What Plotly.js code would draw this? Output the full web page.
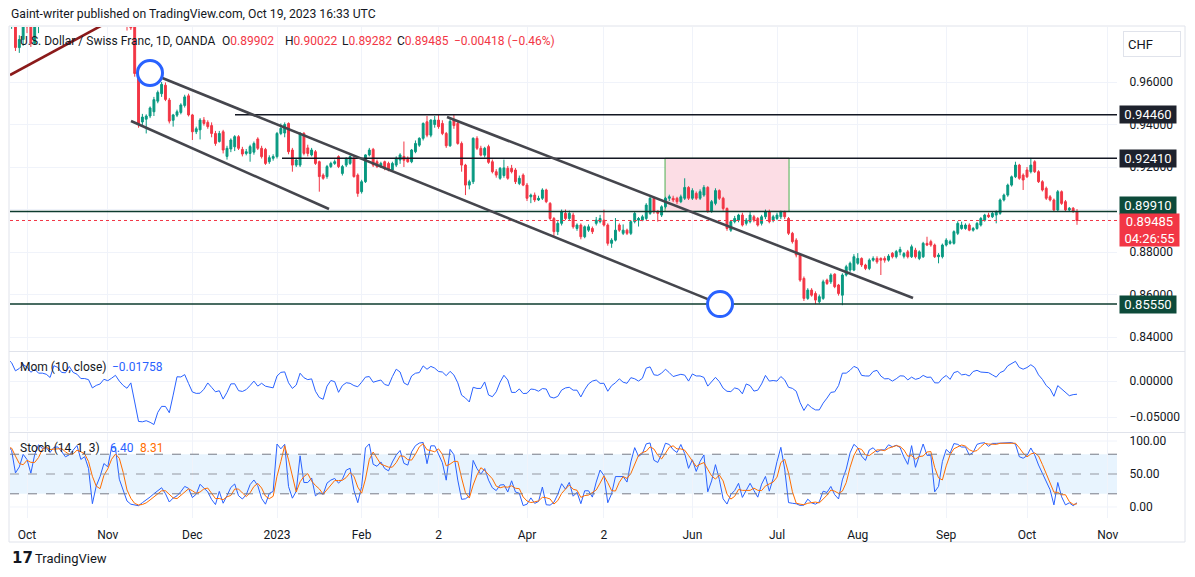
<!DOCTYPE html>
<html>
<head>
<meta charset="utf-8">
<script src="https://cdn.plot.ly/plotly-3.0.1.min.js"></script>
<style>html,body{margin:0;padding:0;background:#fff;}#chart{width:1195px;height:577px;}</style>
</head>
<body>
<div id="chart"></div>
<script>
// USD/CHF daily candles, 5 Sep 2022 .. 19 Oct 2023 (weekdays)
const open = [
.9770,.9795,.9840,.9750,.9700,.9610,.9565,.9645,.9620,.9625,
.9650,.9665,.9660,.9725,.9835,.9840,.9870,.9900,.9762,.9800,
.9880,.9860,.9782,.9890,.9945,.9950,.9965,.9950,.9975,.9990,
1.0000,.9975,.9985,1.0010,1.0040,.9985,1.0000,.9970,.9880,.9930,
.9960,1.0000,.9990,1.0050,1.0120,.9985,.9940,.9900,.9880,.9640,
.9412,.9425,.9440,.9460,.9510,.9545,.9585,.9515,.9420,.9444,
.9457,.9490,.9535,.9445,.9366,.9375,.9421,.9410,.9395,.9358,
.9320,.9366,.9250,.9285,.9295,.9343,.9283,.9264,.9264,.9270,
.9332,.9288,.9283,.9225,.9241,.9249,.9358,.9360,.9405,.9280,
.9209,.9209,.9358,.9290,.9257,.9272,.9225,.9162,.9155,.9202,
.9217,.9249,.9170,.9209,.9217,.9241,.9162,.9084,.9131,.9257,
.9283,.9225,.9202,.9225,.9217,.9186,.9209,.9233,.9250,.9241,
.9225,.9272,.9303,.9335,.9413,.9350,.9400,.9421,.9405,.9358,
.9300,.9421,.9405,.9311,.9209,.9115,.9131,.9335,.9288,.9256,
.9296,.9225,.9178,.9147,.9160,.9194,.9194,.9186,.9123,.9162,
.9115,.9060,.9068,.9045,.9053,.9092,.9029,.8958,.8896,.8935,
.8982,.8958,.8974,.8911,.8927,.8872,.8903,.8911,.8935,.8943,
.8950,.8927,.8841,.8856,.8927,.8888,.8903,.8888,.8943,.8950,
.8950,.8958,.8982,.9053,.8993,.8974,.9013,.9053,.9053,.9053,
.9037,.9053,.9104,.9053,.9076,.9053,.9068,.9104,.8990,.9029,
.9089,.9053,.9005,.8903,.8943,.8950,.8974,.8935,.8943,.8966,
.8958,.8935,.8966,.8990,.8950,.8958,.8966,.8990,.8958,.8888,
.8856,.8786,.8676,.8582,.8621,.8605,.8566,.8582,.8668,.8660,
.8696,.8645,.8597,.8692,.8715,.8715,.8747,.8770,.8739,.8723,
.8762,.8770,.8770,.8770,.8762,.8794,.8778,.8800,.8780,.8801,
.8778,.8809,.8770,.8778,.8841,.8849,.8833,.8778,.8778,.8833,
.8841,.8841,.8888,.8911,.8911,.8927,.8903,.8911,.8927,.8950,
.8974,.8966,.8974,.8982,.9045,.9068,.9115,.9154,.9209,.9162,
.9186,.9178,.9225,.9178,.9131,.9100,.9060,.9045,.8998,.9084,
.9037,.8998,.9006,.89902
];
const high = [
.9830,.9870,.9865,.9780,.9720,.9625,.9660,.9660,.9640,.9665,
.9680,.9690,.9760,.9860,.9880,.9890,.9960,.9965,.9820,.9900,
.9905,.9875,.9900,.9960,.9990,1.0000,.9990,.9995,1.0015,1.0050,
1.0010,1.0000,1.0040,1.0060,1.0070,1.0030,1.0020,.9985,.9950,.9985,
1.0020,1.0030,1.0060,1.0150,1.0130,1.0000,.9960,.9935,.9910,.9665,
.9450,.9448,.9485,.9530,.9560,.9600,.9598,.9525,.9450,.9470,
.9500,.9540,.9545,.9450,.9390,.9430,.9435,.9420,.9410,.9370,
.9370,.9375,.9300,.9335,.9350,.9350,.9295,.9285,.9305,.9320,
.9340,.9300,.9290,.9255,.9260,.9365,.9405,.9410,.9410,.9290,
.9240,.9365,.9365,.9305,.9290,.9280,.9230,.9170,.9210,.9225,
.9235,.9255,.9210,.9245,.9255,.9250,.9170,.9140,.9260,.9290,
.9290,.9235,.9225,.9230,.9225,.9225,.9250,.9265,.9320,.9250,
.9285,.9325,.9340,.9410,.9440,.9425,.9440,.9446,.9420,.9365,
.9425,.9446,.9415,.9320,.9215,.9140,.9340,.9345,.9300,.9295,
.9305,.9235,.9190,.9200,.9235,.9205,.9210,.9195,.9160,.9170,
.9125,.9075,.9080,.9065,.9100,.9098,.9035,.8965,.8945,.9000,
.9000,.8995,.8985,.8935,.8935,.8925,.8930,.8920,.8965,.8975,
.9000,.8935,.8865,.8960,.8935,.8930,.8910,.8950,.8990,.8965,
.8975,.9030,.9060,.9060,.8995,.9020,.9060,.9070,.9065,.9060,
.9070,.9147,.9110,.9100,.9085,.9095,.9115,.9110,.9045,.9100,
.9095,.9060,.9010,.8950,.8970,.8980,.8985,.8960,.8990,.8975,
.8965,.8975,.9000,.9000,.8975,.8985,.8995,.8995,.8965,.8895,
.8865,.8790,.8685,.8630,.8630,.8615,.8600,.8670,.8675,.8700,
.8700,.8650,.8700,.8740,.8755,.8790,.8795,.8775,.8745,.8770,
.8780,.8780,.8775,.8780,.8790,.8800,.8810,.8825,.8800,.8810,
.8835,.8820,.8808,.8848,.8872,.8858,.8840,.8795,.8840,.8865,
.8858,.8902,.8945,.8943,.8935,.8935,.8918,.8942,.8965,.8980,
.8985,.8990,.8996,.9052,.9075,.9122,.9160,.9225,.9215,.9170,
.9200,.9243,.9232,.9185,.9138,.9108,.9068,.9052,.9092,.9090,
.9045,.9012,.9012,.90022
];
const low = [
.9750,.9780,.9740,.9680,.9600,.9550,.9545,.9595,.9590,.9600,
.9620,.9640,.9650,.9710,.9790,.9790,.9850,.9746,.9737,.9770,
.9830,.9765,.9775,.9830,.9920,.9930,.9910,.9925,.9870,.9965,
.9940,.9930,.9960,.9990,.9950,.9970,.9950,.9870,.9865,.9910,
.9950,.9960,.9950,1.0030,.9970,.9920,.9842,.9845,.9625,.9385,
.9395,.9358,.9430,.9440,.9500,.9530,.9510,.9405,.9390,.9435,
.9448,.9480,.9438,.9327,.9355,.9330,.9395,.9380,.9340,.9300,
.9315,.9264,.9235,.9270,.9275,.9280,.9250,.9255,.9225,.9258,
.9280,.9240,.9210,.9215,.9230,.9240,.9350,.9340,.9260,.9178,
.9200,.9200,.9255,.9250,.9250,.9210,.9084,.9140,.9145,.9195,
.9210,.9195,.9160,.9200,.9210,.9150,.9060,.9075,.9125,.9250,
.9200,.9195,.9195,.9185,.9180,.9178,.9200,.9215,.9200,.9220,
.9218,.9265,.9295,.9325,.9340,.9340,.9385,.9380,.9350,.9290,
.9295,.9380,.9305,.9178,.9068,.9095,.9120,.9280,.9250,.9245,
.9215,.9170,.9150,.9140,.9150,.9140,.9170,.9120,.9115,.9110,
.9040,.9030,.9035,.9040,.9045,.9030,.8950,.8870,.8880,.8925,
.8950,.8950,.8910,.8900,.8860,.8865,.8895,.8885,.8925,.8935,
.8920,.8830,.8820,.8850,.8895,.8880,.8880,.8880,.8935,.8920,
.8945,.8950,.8975,.8980,.8943,.8965,.9005,.9040,.9035,.9025,
.9030,.9045,.9045,.9045,.9045,.9045,.9060,.8985,.8985,.9020,
.9045,.8995,.8900,.8895,.8935,.8940,.8920,.8925,.8935,.8940,
.8920,.8925,.8955,.8935,.8940,.8950,.8955,.8955,.8880,.8840,
.8775,.8660,.8570,.8575,.8590,.8555,.8558,.8575,.8645,.8650,
.8630,.8595,.8550,.8685,.8705,.8710,.8740,.8730,.8715,.8715,
.8755,.8745,.8692,.8750,.8755,.8770,.8770,.8785,.8770,.8770,
.8772,.8770,.8762,.8772,.8828,.8825,.8772,.8747,.8770,.8826,
.8835,.8835,.8880,.8905,.8905,.8898,.8896,.8905,.8920,.8943,
.8960,.8960,.8935,.8975,.9038,.9060,.9108,.9148,.9140,.9092,
.9148,.9170,.9172,.9125,.9085,.9045,.9038,.8990,.8990,.9022,
.8992,.8990,.8985,.89282
];
const close = [
.9795,.9840,.9750,.9700,.9610,.9565,.9645,.9620,.9625,.9650,
.9665,.9660,.9725,.9835,.9840,.9870,.9900,.9762,.9800,.9880,
.9860,.9782,.9890,.9945,.9950,.9965,.9950,.9975,.9990,1.0000,
.9975,.9985,1.0010,1.0040,.9985,1.0000,.9970,.9880,.9930,.9960,
1.0000,.9990,1.0050,1.0120,.9985,.9940,.9870,.9855,.9640,.9400,
.9435,.9440,.9478,.9517,.9551,.9589,.9518,.9416,.9445,.9460,
.9492,.9530,.9445,.9366,.9380,.9421,.9405,.9390,.9358,.9311,
.9358,.9280,.9288,.9327,.9343,.9288,.9261,.9272,.9296,.9311,
.9288,.9249,.9217,.9244,.9249,.9358,.9382,.9400,.9272,.9209,
.9233,.9358,.9264,.9264,.9280,.9217,.9155,.9147,.9202,.9217,
.9225,.9202,.9202,.9241,.9249,.9155,.9076,.9131,.9257,.9280,
.9209,.9202,.9217,.9194,.9186,.9217,.9241,.9257,.9232,.9225,
.9280,.9311,.9335,.9405,.9350,.9421,.9421,.9390,.9358,.9300,
.9415,.9395,.9311,.9209,.9115,.9131,.9335,.9288,.9256,.9288,
.9222,.9178,.9162,.9194,.9196,.9147,.9178,.9131,.9147,.9115,
.9053,.9068,.9045,.9053,.9092,.9037,.8958,.8896,.8935,.8990,
.8958,.8982,.8919,.8927,.8872,.8919,.8919,.8896,.8950,.8958,
.8927,.8841,.8856,.8903,.8903,.8903,.8888,.8943,.8982,.8958,
.8966,.9021,.9053,.8990,.8982,.9013,.9053,.9060,.9045,.9037,
.9060,.9104,.9053,.9089,.9053,.9084,.9104,.8990,.9037,.9089,
.9053,.9005,.8911,.8943,.8958,.8974,.8927,.8950,.8974,.8950,
.8927,.8966,.8990,.8943,.8966,.8974,.8990,.8966,.8888,.8849,
.8786,.8668,.8582,.8621,.8597,.8574,.8590,.8660,.8652,.8692,
.8637,.8605,.8692,.8731,.8747,.8778,.8770,.8739,.8723,.8762,
.8770,.8754,.8762,.8762,.8781,.8778,.8802,.8812,.8793,.8778,
.8825,.8778,.8801,.8841,.8833,.8833,.8778,.8786,.8833,.8856,
.8849,.8896,.8935,.8927,.8927,.8903,.8911,.8935,.8958,.8974,
.8966,.8982,.8990,.9045,.9068,.9115,.9154,.9209,.9147,.9139,
.9154,.9209,.9178,.9131,.9092,.9053,.9045,.8998,.9084,.9029,
.8998,.9006,.8990,.89485
];
// month ticks (index of first trading day of each month) and their labels
const tickIndex = [20,41,63,85,107,127,150,170,193,215,236,259,280,301];
const tickText  = ['Oct','Nov','Dec','2023','Feb','2','Apr','2','Jun','Jul','Aug','Sep','Oct','Nov'];
const priceTicks = [0.84,0.86,0.88,0.92,0.94,0.96];
const priceGrid = [0.90];
const levels = {res1:0.9446, res2:0.9241, mid:0.8991, sup:0.8555, last:0.89485};

// ---- indicators (computed from the candles) ----
const xIdx = close.map((_, i) => i);
const mom = close.map((c, i) => i >= 10 ? c - close[i - 10] : null);
const stochK = close.map((c, i) => {
  if (i < 13) return null;
  let hh = -Infinity, ll = Infinity;
  for (let j = i - 13; j <= i; j++) { hh = Math.max(hh, high[j]); ll = Math.min(ll, low[j]); }
  return 100 * (c - ll) / (hh - ll);
});
const stochD = stochK.map((k, i) => (i >= 15) ? (stochK[i] + stochK[i-1] + stochK[i-2]) / 3 : null);

// ---- pixel helpers for layout placement ----
const px = X => (X - 10) / 1107;
const py = Y => (518 - Y) / 491;
const FONT = 'Roboto, "Liberation Sans", sans-serif';
const DARK = '#131722';
const RED = '#f23645', GREEN = '#089981', BLUE = '#2962ff', ORANGE = '#ff6d00';

const traces = [
  {type:'candlestick', x:xIdx, open:open, high:high, low:low, close:close, xaxis:'x', yaxis:'y',
   increasing:{line:{color:GREEN, width:1}, fillcolor:GREEN},
   decreasing:{line:{color:RED, width:1}, fillcolor:RED},
   whiskerwidth:0, hoverinfo:'none', showlegend:false},
  {type:'scatter', mode:'lines', x:xIdx, y:mom, xaxis:'x', yaxis:'y2', line:{color:BLUE, width:1}, hoverinfo:'none'},
  {type:'scatter', mode:'lines', x:xIdx, y:stochK, xaxis:'x', yaxis:'y3', line:{color:BLUE, width:1}, hoverinfo:'none'},
  {type:'scatter', mode:'lines', x:xIdx, y:stochD, xaxis:'x', yaxis:'y3', line:{color:ORANGE, width:1}, hoverinfo:'none'}
];

const XR = [15.58, 303.4];
const shapes = [
  {type:'rect', xref:'paper', yref:'paper', x0:px(9), x1:px(1185), y0:py(542), y1:py(26), line:{color:'#e0e3eb', width:1}, fillcolor:'rgba(0,0,0,0)', layer:'below'},
  {type:'line', xref:'paper', yref:'paper', x0:px(9), x1:px(1185), y0:py(351.5), y1:py(351.5), line:{color:'#e0e3eb', width:1}},
  {type:'line', xref:'paper', yref:'paper', x0:px(9), x1:px(1185), y0:py(432.5), y1:py(432.5), line:{color:'#e0e3eb', width:1}},
  {type:'line', xref:'paper', yref:'y', x0:0, x1:1, y0:priceGrid[0], y1:priceGrid[0], line:{color:'#f0f3fa', width:1}, layer:'below'},
  {type:'rect', xref:'paper', yref:'y3', x0:0, x1:1, y0:20, y1:80, fillcolor:'rgba(33,150,243,0.1)', line:{width:0}, layer:'between'},
  {type:'line', xref:'paper', yref:'y3', x0:0, x1:1, y0:0, y1:0, line:{color:'#f0f3fa', width:1}, layer:'below'},
  {type:'line', xref:'paper', yref:'y3', x0:0, x1:1, y0:100, y1:100, line:{color:'#f0f3fa', width:1}, layer:'below'},
  {type:'line', xref:'paper', yref:'y3', x0:0, x1:1, y0:80, y1:80, line:{color:'#787b86', width:1, dash:'dash'}},
  {type:'line', xref:'paper', yref:'y3', x0:0, x1:1, y0:50, y1:50, line:{color:'#9598a1', width:1, dash:'dash'}},
  {type:'line', xref:'paper', yref:'y3', x0:0, x1:1, y0:20, y1:20, line:{color:'#787b86', width:1, dash:'dash'}},
  // pink zone
  {type:'rect', xref:'x', yref:'y', x0:185.89, x1:218.13, y0:levels.mid, y1:levels.res2, fillcolor:'#fcdde5', line:{color:'#4caf50', width:1}, layer:'between'},
  // current price
  {type:'line', xref:'paper', yref:'y', x0:0, x1:1, y0:levels.last, y1:levels.last, line:{color:RED, width:1, dash:'dot'}},
  // horizontal levels
  {type:'line', xref:'x', yref:'y', x0:74.08, x1:XR[1], y0:levels.res1, y1:levels.res1, line:{color:DARK, width:1.5}},
  {type:'line', xref:'x', yref:'y', x0:86.3, x1:XR[1], y0:levels.res2, y1:levels.res2, line:{color:DARK, width:1.5}},
  {type:'line', xref:'x', yref:'y', x0:XR[0], x1:XR[1], y0:levels.mid, y1:levels.mid, line:{color:'#0d3b2e', width:1.5}},
  {type:'line', xref:'x', yref:'y', x0:XR[0], x1:XR[1], y0:levels.sup, y1:levels.sup, line:{color:'#0d3b2e', width:1.5}},
  // channel lines
  {type:'line', xref:'x', yref:'y', x0:47.04, y0:0.94165, x1:98.52, y1:0.90024, line:{color:'#45464d', width:2.6}},
  {type:'line', xref:'x', yref:'y', x0:51.98, y0:0.96424, x1:200.19, y1:0.8555, line:{color:'#45464d', width:2.6}},
  {type:'line', xref:'x', yref:'y', x0:129.2, y0:0.94353, x1:250.37, y1:0.85835, line:{color:'#45464d', width:2.6}},
  {type:'line', xref:'x', yref:'y', x0:15.58, y0:0.96329, x1:41.58, y1:0.98871, line:{color:'#8b1a1a', width:2.6}},
  // circles
  {type:'circle', xref:'x', yref:'y', xsizemode:'pixel', ysizemode:'pixel', xanchor:51.98, yanchor:0.96424, x0:-12.5, x1:12.5, y0:-12.5, y1:12.5, fillcolor:'#ffffff', line:{color:BLUE, width:3}},
  {type:'circle', xref:'x', yref:'y', xsizemode:'pixel', ysizemode:'pixel', xanchor:200.19, yanchor:levels.sup, x0:-12.5, x1:12.5, y0:-12.5, y1:12.5, fillcolor:'#ffffff', line:{color:BLUE, width:3}}
];

function tag(price, text, bg, shift) {
  return {xref:'paper', x:px(1119), xanchor:'left', yref:'y', y:price, yanchor:'middle', yshift:shift || 0, text:text, showarrow:false,
          bgcolor:bg, font:{color:'#ffffff', size:13, family:FONT}, borderpad:2, width:52, height:13, align:'center'};
}
function txt(X, Y, text, opts) {
  return Object.assign({xref:'paper', yref:'paper', x:px(X), y:py(Y), xanchor:'left', yanchor:'middle', text:text, showarrow:false,
          font:{size:12, color:DARK, family:FONT}}, opts || {});
}
const r = s => '<span style="color:' + RED + '">' + s + '</span>';
const annotations = [
  txt(9, 14, 'Gaint-writer published on TradingView.com, Oct 19, 2023 16:33 UTC', {font:{size:12.2, color:DARK, family:FONT}}),
  txt(18, 41, 'U.S. Dollar / Swiss Franc, 1D, OANDA'),
  txt(220, 41, 'O' + r('0.89902')),
  txt(283, 41, 'H' + r('0.90022')),
  txt(340, 41, 'L' + r('0.89282')),
  txt(395, 41, 'C' + r('0.89485')),
  txt(452, 41, r('\u22120.00418 (\u22120.46%)')),
  txt(18, 367, 'Mom (10, close)'),
  txt(110, 367, '\u22120.01758', {font:{size:12, color:BLUE, family:FONT}}),
  txt(18, 448, 'Stoch (14, 1, 3)'),
  txt(108, 448, '6.40', {font:{size:12, color:BLUE, family:FONT}}),
  txt(138, 448, '8.31', {font:{size:12, color:ORANGE, family:FONT}}),
  txt(1123, 44, 'CHF', {bgcolor:'#ffffff', bordercolor:'#e0e3eb', borderwidth:1, borderpad:4, width:48, height:16, align:'left', font:{size:13, color:DARK, family:FONT}}),
  tag(levels.res1, '0.94460', '#1e222d', 0),
  tag(levels.res2, '0.92410', '#1e222d', 0),
  tag(levels.mid, '0.89910', '#0d4a3a', 6),
  tag(levels.sup, '0.85550', '#0d4a3a', 0),
  {xref:'paper', x:px(1119), xanchor:'left', yref:'y', y:levels.last, yanchor:'top', yshift:7, text:'0.89485<br>04:26:55', showarrow:false,
   bgcolor:RED, font:{color:'#ffffff', size:13, family:FONT}, borderpad:2, width:55, height:28, align:'center'},
  txt(10, 558, '<b>17</b>', {font:{size:15, color:DARK, family:'"DejaVu Sans", sans-serif'}}),
  txt(33, 558, 'TradingView', {font:{size:13, color:DARK, family:FONT}})
];

const layout = {
  width:1195, height:577, margin:{l:10, r:78, t:27, b:59},
  paper_bgcolor:'#ffffff', plot_bgcolor:'#ffffff', showlegend:false, hovermode:false,
  font:{family:FONT, size:12, color:DARK},
  xaxis:{range:XR, anchor:'y3', tickmode:'array', tickvals:tickIndex, ticktext:tickText, showgrid:true, gridcolor:'#f0f3fa',
         zeroline:false, showline:false, ticks:'outside', ticklen:6, tickcolor:'rgba(0,0,0,0)', rangeslider:{visible:false},
         tickfont:{size:12, color:DARK, family:FONT}, fixedrange:true},
  yaxis:{domain:[0.342, 1], range:[0.83388, 0.98588], side:'right', tickmode:'array', tickvals:priceTicks, tickformat:'.5f',
         showgrid:true, gridcolor:'#f0f3fa', zeroline:false, showline:false, ticks:'outside', ticklen:9, tickcolor:'rgba(0,0,0,0)',
         tickfont:{size:12, color:DARK, family:FONT}, fixedrange:true},
  yaxis2:{domain:[0.177, 0.338], range:[-0.0694, 0.0403], side:'right', anchor:'x', tickmode:'array', tickvals:[-0.05, 0], tickformat:'.5f',
          showgrid:true, gridcolor:'#f0f3fa', zeroline:false, showline:false, ticks:'outside', ticklen:9, tickcolor:'rgba(0,0,0,0)',
          tickfont:{size:12, color:DARK, family:FONT}, fixedrange:true},
  yaxis3:{domain:[0, 0.173], range:[-16.7, 112.1], side:'right', anchor:'x', tickmode:'array', tickvals:[0, 50, 100], tickformat:'.2f',
          showgrid:false, zeroline:false, showline:false, ticks:'outside', ticklen:9, tickcolor:'rgba(0,0,0,0)',
          tickfont:{size:12, color:DARK, family:FONT}, fixedrange:true},
  shapes:shapes, annotations:annotations
};

Plotly.newPlot('chart', traces, layout, {staticPlot:true, displayModeBar:false});
</script>
</body>
</html>
